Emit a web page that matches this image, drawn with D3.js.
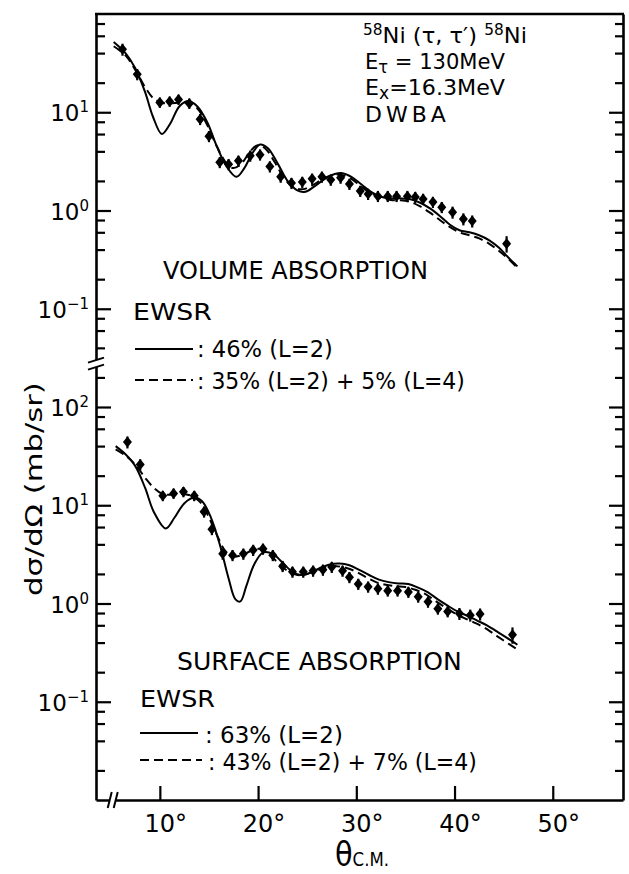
<!DOCTYPE html>
<html>
<head>
<meta charset="utf-8">
<script src="https://cdn.jsdelivr.net/npm/d3@7"></script>
<style>
  html, body { margin: 0; padding: 0; background: #fff; }
  svg { display: block; }
  text { font-family: "DejaVu Sans", "Liberation Sans", sans-serif; fill: #000; }
</style>
</head>
<body>
<svg id="chart" width="629" height="874"></svg>
<script>
// ---- Measured angular distributions, 58Ni(tau,tau')58Ni, Ex = 16.3 MeV ----
// Volume-absorption panel: data (theta c.m. in deg, dsigma/dOmega in mb/sr, relative error)
const volDataTheta = [6.2, 7.7, 10.0, 11.0, 11.9, 13.0, 14.1, 15.0, 16.1, 17.0, 18.0, 19.2, 20.2, 21.2, 22.3, 23.4, 24.5, 25.5, 26.5, 27.4, 28.4, 29.3, 30.4, 31.2, 32.2, 33.2, 34.1, 35.2, 36.0, 36.8, 37.8, 38.7, 39.8, 40.9, 41.8, 45.3];
const volDataValue = [43.7, 24.3, 12.6, 12.9, 13.5, 12.3, 8.5, 5.7, 3.1, 2.95, 3.2, 3.6, 3.7, 2.8, 2.2, 1.9, 1.95, 2.1, 2.2, 2.05, 2.15, 1.86, 1.58, 1.47, 1.40, 1.40, 1.40, 1.40, 1.37, 1.31, 1.22, 1.08, 0.96, 0.82, 0.78, 0.46];
const volDataError = [0.14, 0.13, 0.12, 0.12, 0.12, 0.12, 0.13, 0.13, 0.13, 0.13, 0.13, 0.13, 0.13, 0.13, 0.13, 0.13, 0.13, 0.13, 0.13, 0.13, 0.13, 0.13, 0.13, 0.13, 0.13, 0.13, 0.13, 0.13, 0.13, 0.13, 0.13, 0.13, 0.14, 0.14, 0.14, 0.19];

// DWBA, volume absorption: 46% EWSR (L=2)
const volSolidTheta = [5.3, 6.5, 7.5, 8.5, 9.3, 10.2, 11.0, 12.0, 12.9, 13.8, 14.8, 15.8, 16.8, 17.8, 18.6, 19.4, 20.2, 21.0, 22.0, 23.0, 24.0, 24.8, 25.7, 26.8, 27.8, 28.6, 29.5, 30.5, 31.5, 32.5, 33.5, 34.5, 35.5, 36.5, 37.5, 38.5, 39.5, 40.5, 41.5, 42.5, 43.5, 44.5, 45.5, 46.4];
const volSolidValue = [52, 40, 28, 16, 9, 6.0, 7.5, 11.5, 13.0, 11.5, 8, 4.5, 2.8, 2.2, 2.7, 3.8, 4.7, 4.3, 3.0, 2.0, 1.6, 1.55, 1.75, 2.1, 2.35, 2.4, 2.2, 1.85, 1.55, 1.38, 1.33, 1.33, 1.3, 1.2, 1.05, 0.88, 0.72, 0.63, 0.6, 0.56, 0.5, 0.42, 0.33, 0.27];
// DWBA, volume absorption: 35% (L=2) + 5% (L=4)
const volDashTheta = [5.3, 6.5, 7.5, 8.5, 9.3, 10.2, 11.0, 12.0, 12.9, 13.8, 14.8, 15.8, 16.8, 17.5, 18.3, 19.2, 19.9, 20.7, 21.7, 22.7, 23.7, 24.6, 25.5, 26.6, 27.6, 28.5, 29.5, 30.5, 31.5, 32.5, 33.5, 34.5, 35.5, 36.5, 37.5, 38.5, 39.5, 40.5, 41.5, 42.5, 43.5, 44.5, 45.5, 46.4];
const volDashValue = [47, 38, 27, 18, 14, 12.5, 12.3, 12.5, 12.5, 11, 7.5, 4.5, 3.0, 2.7, 3.0, 4.0, 4.6, 4.3, 3.1, 2.1, 1.7, 1.65, 1.8, 2.1, 2.3, 2.3, 2.1, 1.75, 1.5, 1.35, 1.28, 1.27, 1.22, 1.1, 0.95, 0.8, 0.68, 0.6, 0.56, 0.52, 0.46, 0.39, 0.32, 0.26];

// Surface-absorption panel: data
const surfDataTheta = [6.7, 8.0, 10.3, 11.4, 12.4, 13.5, 14.5, 15.3, 16.4, 17.4, 18.5, 19.5, 20.5, 21.5, 22.5, 23.5, 24.6, 25.6, 26.6, 27.5, 28.6, 29.3, 30.2, 31.2, 32.2, 33.2, 34.2, 35.3, 36.3, 37.3, 38.3, 39.3, 40.5, 41.6, 42.6, 45.9];
const surfDataValue = [44, 26, 12.5, 13.2, 13.7, 12.5, 8.6, 5.7, 3.2, 3.1, 3.2, 3.5, 3.6, 3.1, 2.4, 2.1, 2.1, 2.15, 2.2, 2.35, 2.15, 1.85, 1.58, 1.48, 1.41, 1.35, 1.35, 1.31, 1.17, 1.04, 0.885, 0.83, 0.79, 0.76, 0.78, 0.48];
const surfDataError = [0.14, 0.13, 0.12, 0.12, 0.12, 0.12, 0.13, 0.13, 0.13, 0.13, 0.13, 0.13, 0.13, 0.13, 0.13, 0.13, 0.13, 0.13, 0.13, 0.13, 0.13, 0.13, 0.13, 0.13, 0.13, 0.13, 0.13, 0.13, 0.13, 0.13, 0.13, 0.13, 0.14, 0.14, 0.14, 0.19];

// DWBA, surface absorption: 63% EWSR (L=2)
const surfSolidTheta = [5.5, 6.5, 7.5, 8.5, 9.4, 10.6, 11.5, 12.5, 13.5, 14.3, 15.2, 16.1, 17.0, 17.7, 18.2, 18.8, 19.6, 20.5, 21.5, 22.5, 23.5, 24.3, 25.3, 26.3, 27.3, 28.3, 29.3, 30.3, 31.3, 32.3, 33.3, 34.3, 35.3, 36.3, 37.3, 38.3, 39.3, 40.3, 41.3, 42.3, 43.3, 44.3, 45.3, 46.4];
const surfSolidValue = [40, 33, 25, 15, 8.5, 5.8, 7.5, 10.5, 12, 11, 7.5, 4, 1.8, 1.1, 1.05, 1.5, 2.5, 3.3, 3.2, 2.6, 2.1, 1.95, 2.05, 2.3, 2.5, 2.55, 2.45, 2.2, 1.95, 1.75, 1.65, 1.6, 1.58, 1.45, 1.3, 1.1, 0.95, 0.83, 0.75, 0.67, 0.6, 0.52, 0.45, 0.38];
// DWBA, surface absorption: 43% (L=2) + 7% (L=4)
const surfDashTheta = [5.5, 6.5, 7.5, 8.5, 9.4, 10.3, 11.2, 12.2, 13.2, 14.2, 15.0, 15.8, 16.6, 17.4, 18.3, 19.2, 20.1, 21.0, 22.0, 23.0, 24.0, 25.0, 26.0, 27.0, 28.0, 29.0, 30.0, 31.0, 32.0, 33.0, 34.0, 35.0, 36.0, 37.0, 38.0, 39.0, 40.0, 41.0, 42.0, 43.0, 44.0, 45.0, 46.4];
const surfDashValue = [37, 32, 26, 19, 15, 13, 12.8, 13, 12.5, 10.5, 7.5, 5, 3.5, 3.0, 3.1, 3.4, 3.6, 3.3, 2.6, 2.15, 1.95, 2.0, 2.2, 2.35, 2.4, 2.3, 2.1, 1.85, 1.65, 1.55, 1.5, 1.47, 1.38, 1.25, 1.07, 0.92, 0.8, 0.71, 0.64, 0.57, 0.49, 0.42, 0.34];

// Axis ticks
const xTickValues = [10, 20, 30, 40, 50];
const upperTickExponents = [1, 0, -1];
const lowerTickExponents = [2, 1, 0, -1];
const minorMultipliers = [2, 4, 6, 8];

// ---------------------------------------------------------------------------
const svg = d3.select("#chart");
const INK = "#000";

// One continuous log axis carries both panels; the lower panel sits four decades down.
const LOWER_SHIFT = 1e-4;
const x = d3.scaleLinear().domain([3.5, 57.15]).range([96, 623]);
const y = d3.scaleLog().domain([1e2, 1e-6]).range([14, 800]);
const yUpper = v => y(v);
const yLower = v => y(v * LOWER_SHIFT);

// ---- frame and axes ----
const majorEff = upperTickExponents.map(e => Math.pow(10, e))
  .concat(lowerTickExponents.map(e => Math.pow(10, e) * LOWER_SHIFT));
const minorEff = [];
for (let e = 1; e >= -6; e--) {
  minorMultipliers.forEach(m => minorEff.push(m * Math.pow(10, e)));
}

function styleAxis(g) {
  g.selectAll(".domain").attr("stroke", INK).attr("stroke-width", 2.6);
  g.selectAll(".tick line").attr("stroke", INK).attr("stroke-width", 2.2);
  g.selectAll(".tick text").remove();
}

const gLeft = svg.append("g").attr("transform", "translate(96,0)");
gLeft.append("g").call(d3.axisLeft(y).tickValues(minorEff).tickSize(-9).tickSizeOuter(0)).call(styleAxis);
gLeft.append("g").call(d3.axisLeft(y).tickValues(majorEff).tickSize(-15).tickSizeOuter(0))
  .call(styleAxis).call(g => g.select(".domain").remove());

const gRight = svg.append("g").attr("transform", "translate(623,0)");
gRight.append("g").call(d3.axisRight(y).tickValues(minorEff).tickSize(-8).tickSizeOuter(0)).call(styleAxis);
gRight.append("g").call(d3.axisRight(y).tickValues(majorEff).tickSize(-14).tickSizeOuter(0))
  .call(styleAxis).call(g => g.select(".domain").remove());

const gBottom = svg.append("g").attr("transform", "translate(0,800)");
gBottom.call(d3.axisBottom(x).tickValues(xTickValues).tickSize(-14).tickSizeOuter(0)).call(styleAxis);

svg.append("line").attr("x1", 95).attr("x2", 624).attr("y1", 14).attr("y2", 14)
  .attr("stroke", INK).attr("stroke-width", 2.6);

// axis break marks
function breakMark(cx, cy, vertical) {
  const g = svg.append("g");
  if (vertical) {
    g.append("polygon").attr("points", `${cx-8},${cy-1} ${cx+8},${cy-6} ${cx+8},${cy+1} ${cx-8},${cy+6}`).attr("fill", "#fff");
    [[-8, -1, 8, -6], [-8, 6, 8, 1]].forEach(s =>
      g.append("line").attr("x1", cx + s[0]).attr("y1", cy + s[1]).attr("x2", cx + s[2]).attr("y2", cy + s[3])
        .attr("stroke", INK).attr("stroke-width", 2));
  } else {
    g.append("polygon").attr("points", `${cx-5},${cy+8} ${cx-1},${cy-8} ${cx+5},${cy-8} ${cx+1},${cy+8}`).attr("fill", "#fff");
    [[-5, 8, -1, -8], [1, 8, 5, -8]].forEach(s =>
      g.append("line").attr("x1", cx + s[0]).attr("y1", cy + s[1]).attr("x2", cx + s[2]).attr("y2", cy + s[3])
        .attr("stroke", INK).attr("stroke-width", 2));
  }
}
breakMark(96, (yUpper(0.04) + yLower(200)) / 2 + 1, true);
breakMark(x(5.2), 800, false);

// ---- tick labels ----
function powerLabel(cx, cy, exp) {
  const t = svg.append("text").attr("text-anchor", "end").attr("x", cx).attr("y", cy + 9)
    .attr("font-size", 23);
  t.append("tspan").text("10");
  t.append("tspan").attr("font-size", 15).attr("dy", -9)
    .text(exp < 0 ? "\u2212" + Math.abs(exp) : String(exp));
}
upperTickExponents.forEach(e => powerLabel(89, yUpper(Math.pow(10, e)), e));
lowerTickExponents.forEach(e => powerLabel(89, yLower(Math.pow(10, e)), e));

xTickValues.forEach(v => {
  svg.append("text").attr("x", x(v) + 6).attr("y", 832).attr("text-anchor", "middle")
    .attr("font-size", 24).text(v + "\u00b0");
});

// ---- annotations ----
// Place a text so that it spans [x0, x1], condensing the glyphs horizontally.
function fitText(build, x0, x1, baseline, size, parent) {
  const t = (parent || svg).append("text").attr("font-size", size).attr("x", 0).attr("y", 0);
  build(t);
  const w = t.node().getBBox().width;
  const s = (x1 - x0) / w;
  t.attr("transform", `translate(${x0},${baseline}) scale(${s},1)`);
  return t;
}

// axis titles
fitText(t => {
  t.append("tspan").attr("font-size", 33).text("\u03b8");
  t.append("tspan").attr("font-size", 19).text("C.M.");
}, 335, 389, 866, 33);

const yTitleG = svg.append("g").attr("transform", "translate(42,596) rotate(-90)");
fitText(t => t.text("d\u03c3/d\u03a9 (mb/sr)"), 0, 214, 0, 23, yTitleG);

// ---- curves and data ----
const curveSolid = { dash: null };
const curveDash = { dash: "9,5" };

function drawCurve(thetas, values, yFn, dash) {
  const line = d3.line().x(d => x(d[0])).y(d => yFn(d[1])).curve(d3.curveCatmullRom.alpha(0.5));
  svg.append("path").datum(d3.zip(thetas, values)).attr("d", line)
    .attr("fill", "none").attr("stroke", INK).attr("stroke-width", 2)
    .attr("stroke-dasharray", dash);
}
drawCurve(volSolidTheta, volSolidValue, yUpper, curveSolid.dash);
drawCurve(volDashTheta, volDashValue, yUpper, curveDash.dash);
drawCurve(surfSolidTheta, surfSolidValue, yLower, curveSolid.dash);
drawCurve(surfDashTheta, surfDashValue, yLower, curveDash.dash);

function drawData(thetas, values, errs, yFn) {
  const g = svg.append("g");
  const pts = d3.zip(thetas, values, errs);
  g.selectAll("line.err").data(pts).join("line")
    .attr("x1", d => x(d[0])).attr("x2", d => x(d[0]))
    .attr("y1", d => yFn(d[1] * (1 + d[2]))).attr("y2", d => yFn(d[1] * (1 - d[2])))
    .attr("stroke", INK).attr("stroke-width", 2.2);
  g.selectAll("path.pt").data(pts).join("path")
    .attr("transform", d => `translate(${x(d[0])},${yFn(d[1])})`)
    .attr("d", "M0,-5.5L4.5,0L0,5.5L-4.5,0Z").attr("fill", INK);
}
drawData(volDataTheta, volDataValue, volDataError, yUpper);
drawData(surfDataTheta, surfDataValue, surfDataError, yLower);

fitText(t => {
  t.append("tspan").attr("font-size", 15).attr("dy", -8).text("58");
  t.append("tspan").attr("dy", 8).text("Ni (\u03c4, \u03c4\u2032) ");
  t.append("tspan").attr("font-size", 15).attr("dy", -8).text("58");
  t.append("tspan").attr("dy", 8).text("Ni");
}, 363, 527, 43, 22);
fitText(t => {
  t.append("tspan").text("E");
  t.append("tspan").attr("font-size", 17).attr("dy", 4).text("\u03c4");
  t.append("tspan").attr("dy", -4).text(" = 130MeV");
}, 365, 505, 69, 22);
fitText(t => {
  t.append("tspan").text("E");
  t.append("tspan").attr("font-size", 17).attr("dy", 4).text("x");
  t.append("tspan").attr("dy", -4).text("=16.3MeV");
}, 365, 505, 95, 22);
svg.append("text").attr("x", 365).attr("y", 122).attr("font-size", 22)
  .attr("letter-spacing", 4).text("DWBA");

fitText(t => t.text("VOLUME ABSORPTION"), 163, 428, 279, 24);
fitText(t => t.text("EWSR"), 133, 212, 320, 23);
fitText(t => t.text(": 46% (L=2)"), 197, 333, 357, 23);
fitText(t => t.text(": 35% (L=2) + 5% (L=4)"), 197, 465, 389, 23);

fitText(t => t.text("SURFACE ABSORPTION"), 177, 462, 670, 24);
fitText(t => t.text("EWSR"), 140, 215, 707, 23);
fitText(t => t.text(": 63% (L=2)"), 205, 343, 743, 23);
fitText(t => t.text(": 43% (L=2) + 7% (L=4)"), 208, 477, 770, 23);

// legend samples
[[135, 193, 349, null], [135, 193, 380, curveDash.dash], [140, 198, 733, null], [140, 202, 760, curveDash.dash]]
  .forEach(([a, b, yy, dash]) => {
    svg.append("line").attr("x1", a).attr("x2", b).attr("y1", yy).attr("y2", yy)
      .attr("stroke", INK).attr("stroke-width", 2).attr("stroke-dasharray", dash);
  });
</script>
</body>
</html>
